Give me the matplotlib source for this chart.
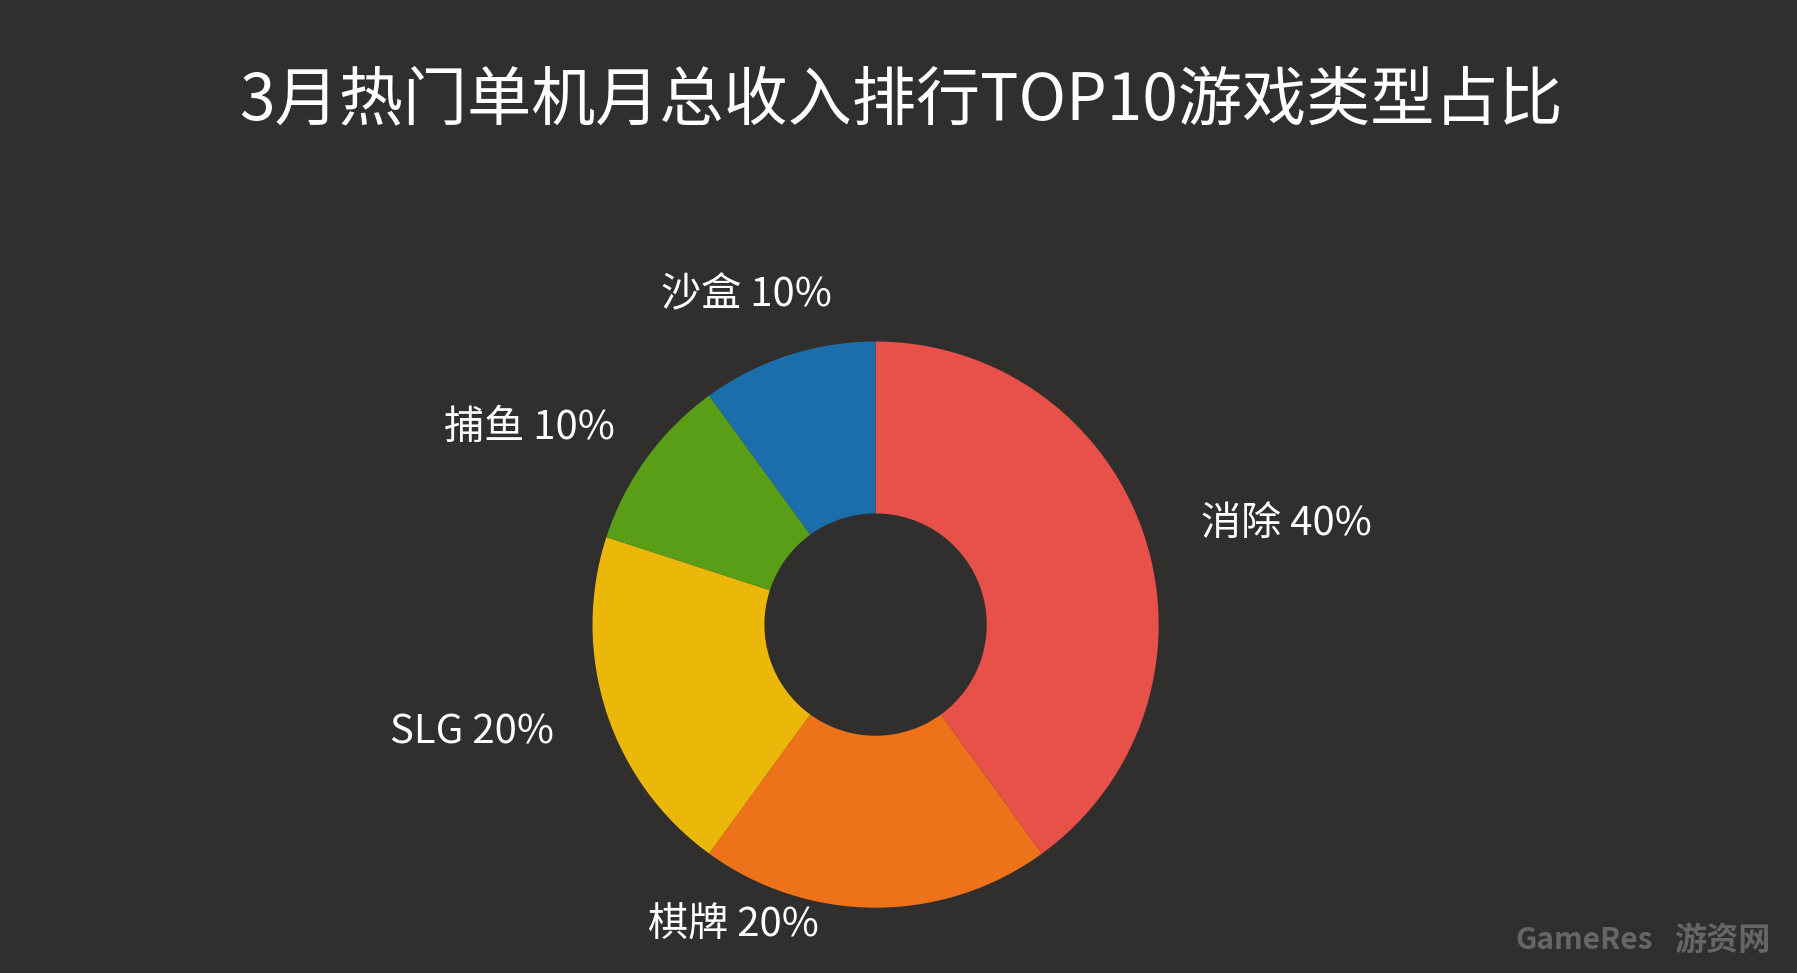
import matplotlib
matplotlib.use('Agg')
from matplotlib import pyplot as plt

plt.rcParams['font.family'] = ['Noto Sans CJK SC', 'DejaVu Sans']

title = '3月热门单机月总收入排行TOP10游戏类型占比'
categories = ['消除', '棋牌', 'SLG', '捕鱼', '沙盒']
shares = [40, 20, 20, 10, 10]
colors = ['#E8504A', '#EE7219', '#EBB80A', '#5A9E18', '#1B6EAA']
# label anchor points in reference pixel space (x, y from top)
label_pos = [(1048, 457), (640, 807), (412, 639), (462, 373), (651, 258)]
label_ha = ['left', 'center', 'center', 'center', 'center']

W, H = 1568, 849
bg = '#302F2D'
fig = plt.figure(figsize=[17.97, 9.73], dpi=100)
fig.patch.set_facecolor(bg)
ax = fig.add_axes([0, 0, 1, 1])
ax.set_facecolor(bg)

s = 1797 / W * 0.72  # ref pixels -> points

ax.pie(shares, colors=colors, startangle=90, counterclock=False,
       center=(764, H - 545), radius=247, frame=True,
       wedgeprops=dict(width=150, edgecolor='none'))
ax.set_xlim(0, W)
ax.set_ylim(0, H)
ax.set_aspect('equal')
ax.set_axis_off()

for name, v, (x, y), ha in zip(categories, shares, label_pos, label_ha):
    ax.text(x, H - y, f'{name} {v}%', color='white', fontsize=35 * s,
            ha=ha, va='center')

ax.text(786, H - 88, title, color='white', fontsize=56 * s, ha='center', va='center')

# watermark
ax.text(1442, H - 820, 'GameRes', color='#666666', fontsize=26 * s,
        ha='right', va='center', fontweight='bold')
ax.text(1545, H - 820, '游资网', color='#666666', fontsize=28 * s,
        ha='right', va='center', fontweight='bold')

fig.savefig('out.png', dpi=100, facecolor=bg)
